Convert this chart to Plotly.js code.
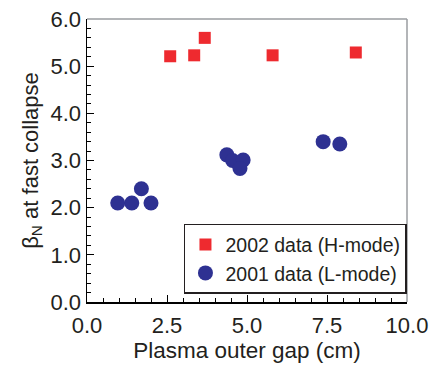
<!DOCTYPE html>
<html>
<head>
<meta charset="utf-8">
<script src="https://cdn.plot.ly/plotly-3.0.1.min.js"></script>
<style>html,body{margin:0;padding:0;background:#fff;}#chart{width:430px;height:366px;}</style>
</head>
<body>
<div id="chart"></div>
<script>
// 2002 data (H-mode)
var hName = "2002 data (H-mode)";
var hX = [2.6, 3.35, 3.68, 5.8, 8.4];
var hY = [5.21, 5.23, 5.6, 5.23, 5.29];
// 2001 data (L-mode)
var lName = "2001 data (L-mode)";
var lX = [0.96, 1.4, 1.7, 2.0, 4.37, 4.55, 4.88, 4.78, 7.38, 7.9];
var lY = [2.1, 2.1, 2.4, 2.1, 3.12, 3.0, 3.01, 2.83, 3.4, 3.35];
var xTitle = "Plasma outer gap (cm)";
var yTitle = "\u03b2<sub>N</sub> at fast collapse";

var RED = "#ee2a2f", BLUE = "#2e3192", INK = "#231f20";
var FONT = "Liberation Sans, Arial, sans-serif";

var traces = [
  {x: hX, y: hY, name: hName, type: "scatter", mode: "markers",
   marker: {symbol: "square", size: 12, color: RED}},
  {x: lX, y: lY, name: lName, type: "scatter", mode: "markers",
   marker: {symbol: "circle", size: 15, color: BLUE}}
];

var layout = {
  width: 430, height: 366,
  margin: {l: 87, r: 23, t: 19, b: 64, pad: 0},
  paper_bgcolor: "#fff", plot_bgcolor: "#fff",
  font: {family: FONT, color: INK, size: 22},
  showlegend: true,
  legend: {
    x: 0.303, y: 0.276, xanchor: "left", yanchor: "top",
    bordercolor: "#231f20", borderwidth: 1.5, bgcolor: "#fff",
    font: {size: 19.5, family: FONT}, itemwidth: 30
  },
  xaxis: {
    range: [0, 10], dtick: 2.5, tick0: 0, tickformat: ".1f",
    showgrid: false, zeroline: false,
    showline: true, linecolor: "#000", linewidth: 1.5,
    ticks: "inside", ticklen: 7, tickcolor: "#000", tickwidth: 1,
    minor: {dtick: 0.5, ticks: "inside", ticklen: 4, tickcolor: "#000", tickwidth: 1},
    tickfont: {size: 22, color: INK}, ticklabelstandoff: 3,
    title: {text: xTitle, font: {size: 22.5, color: INK}, standoff: 4}
  },
  yaxis: {
    range: [0, 6], dtick: 1, tick0: 0, tickformat: ".1f",
    showgrid: false, zeroline: false,
    showline: true, linecolor: "#000", linewidth: 1.5,
    ticks: "inside", ticklen: 7, tickcolor: "#000", tickwidth: 1,
    minor: {dtick: 0.2, ticks: "inside", ticklen: 4, tickcolor: "#000", tickwidth: 1},
    tickfont: {size: 22, color: INK},
    title: {text: yTitle, font: {size: 22, color: INK}, standoff: 6}
  },
  shapes: [
    {type: "line", xref: "paper", yref: "paper", x0: 0, x1: 1, y0: 1, y1: 1,
     line: {color: "#9a9da0", width: 1.5}},
    {type: "line", xref: "paper", yref: "paper", x0: 1, x1: 1, y0: 0, y1: 1,
     line: {color: "#9a9da0", width: 1.5}}
  ]
};

Plotly.newPlot("chart", traces, layout, {displayModeBar: false, staticPlot: true});
</script>
</body>
</html>
